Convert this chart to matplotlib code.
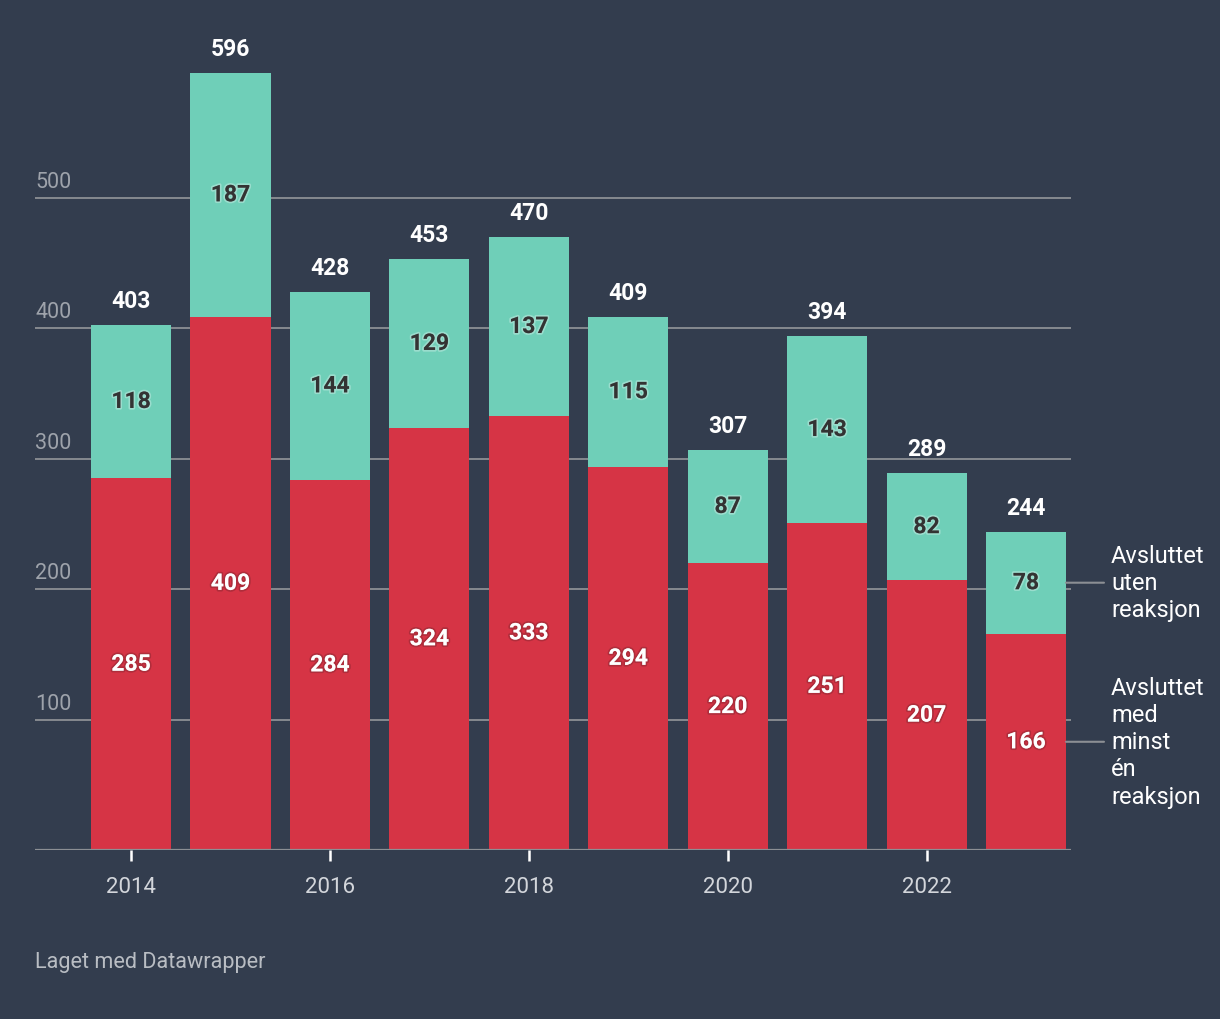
import matplotlib
matplotlib.use("Agg")
import matplotlib.pyplot as plt
import matplotlib.patheffects as pe
from matplotlib.transforms import offset_copy, blended_transform_factory

years = [2014, 2015, 2016, 2017, 2018, 2019, 2020, 2021, 2022, 2023]
with_reaction = [285, 409, 284, 324, 333, 294, 220, 251, 207, 166]
without_reaction = [118, 187, 144, 129, 137, 115, 87, 143, 82, 78]
totals = [403, 596, 428, 453, 470, 409, 307, 394, 289, 244]
y_ticks = [100, 200, 300, 400, 500]
x_ticks = [2014, 2016, 2018, 2020, 2022]
label_without = "Avsluttet\nuten\nreaksjon"
label_with = "Avsluttet\nmed\nminst\nén\nreaksjon"
credit = "Laget med Datawrapper"

BG = "#333d4e"
RED = "#d63445"
TEAL = "#6fcfb8"
GRID = "#8c8f94"

plt.rcParams['font.family'] = ['Roboto', 'DejaVu Sans']

fig = plt.figure(figsize=(12.2, 10.2), dpi=100, facecolor=BG)
ax = fig.add_axes([35/1220, 169/1020, (1071-35)/1220, 811/1020])
ax.set_facecolor(BG)
ax.set_xlim(2013.034, 2023.453)
ax.set_ylim(0, 622)
for s in ax.spines.values():
    s.set_visible(False)

width = 0.805
ax.bar(years, with_reaction, width=width, color=RED, zorder=2)
ax.bar(years, without_reaction, width=width, bottom=with_reaction, color=TEAL, zorder=2)

for v in y_ticks:
    ax.axhline(v, color=GRID, lw=1.3, zorder=1)
ax.axhline(0, color=GRID, lw=1.6, zorder=3)

trans_y = blended_transform_factory(ax.transAxes, ax.transData)
for v in y_ticks:
    ax.text(0, v, str(v), transform=offset_copy(trans_y, fig=fig, x=0, y=6, units='dots'),
            ha='left', va='bottom', color="#9ea3ab", fontsize=15.5)

ax.set_yticks([])
ax.set_xticks(x_ticks)
ax.set_xticklabels([str(x) for x in x_ticks], fontsize=16, color="#d3d6db")
ax.tick_params(axis='x', length=8, width=1.8, color="white", pad=11)

dark_halo = [pe.withStroke(linewidth=2.5, foreground=(0.25, 0.1, 0.12, 0.25))]
light_halo = [pe.withStroke(linewidth=2.5, foreground=(1, 1, 1, 0.3))]

for x, r, t, tot in zip(years, with_reaction, without_reaction, totals):
    ax.text(x, r / 2, str(r), ha='center', va='center', color='white',
            fontsize=16.5, fontweight='bold', zorder=4, path_effects=dark_halo)
    ax.text(x, r + t / 2, str(t), ha='center', va='center', color='#333333',
            fontsize=16.5, fontweight='bold', zorder=4, path_effects=light_halo)
    ax.text(x, tot, str(tot), transform=offset_copy(ax.transData, fig=fig, x=0, y=13, units='dots'),
            ha='center', va='bottom', color='white', fontsize=16.5, fontweight='bold')

# direct legend labels
last = len(years) - 1
xl = years[last] + width / 2
y_teal = with_reaction[last] + without_reaction[last] / 2
y_red = with_reaction[last] / 2
for yv, lab in [(y_teal, label_without), (y_red, label_with)]:
    ax.annotate("", xy=(xl, yv), xytext=(xl + 38 / 99.4, yv),
                arrowprops=dict(arrowstyle='-', color=GRID, lw=1.5, shrinkA=0, shrinkB=0),
                annotation_clip=False)
    ax.text(xl + 45 / 99.4, yv, lab, ha='left', va='center', color='white',
            fontsize=17, linespacing=1.23, clip_on=False)

fig.text(35/1220, 1 - 963/1020, credit, ha='left', va='center', color="#b9bdc3", fontsize=15.6)

fig.savefig("out.png", dpi=100, facecolor=BG)
